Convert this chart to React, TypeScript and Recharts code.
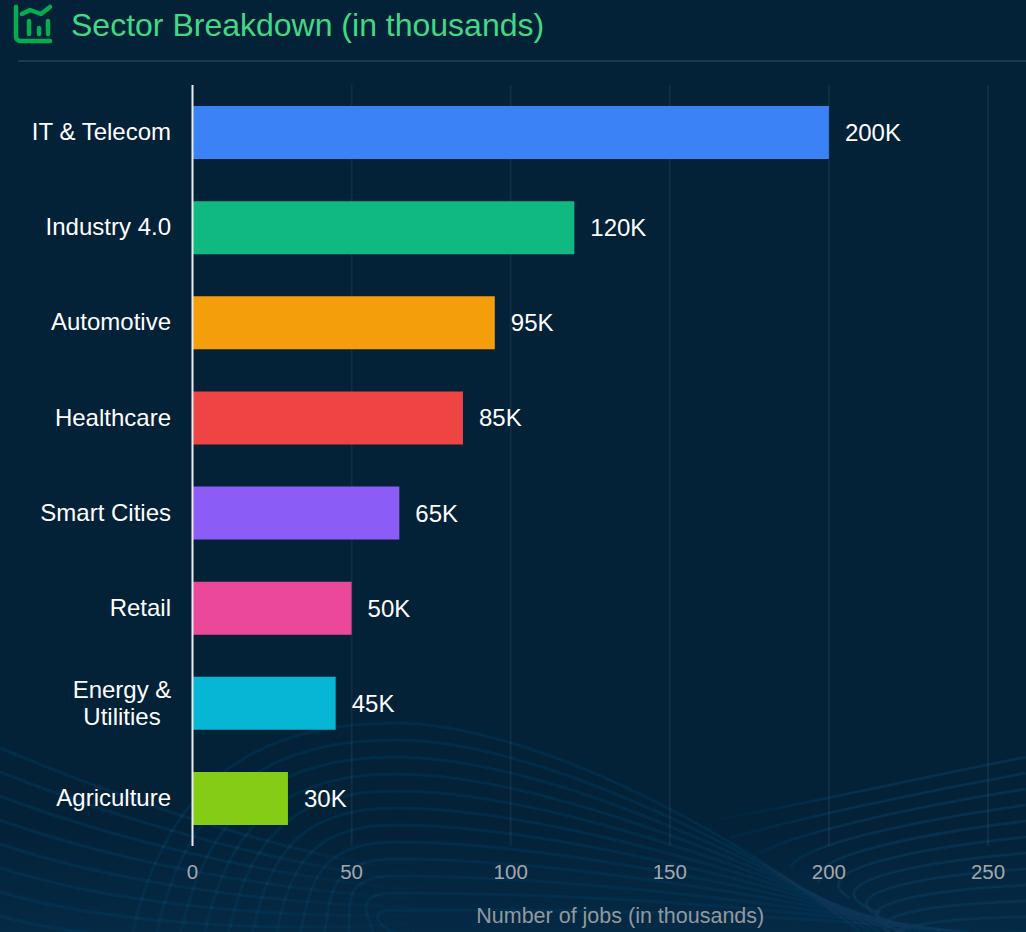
import React from "react";
import { BarChart, Bar, XAxis, YAxis, CartesianGrid, Cell, LabelList } from "recharts";

const sectors = ["IT & Telecom", "Industry 4.0", "Automotive", "Healthcare", "Smart Cities", "Retail", "Energy & Utilities", "Agriculture"];
const jobs = [200, 120, 95, 85, 65, 50, 45, 30];
const colors = ["#3b82f6", "#10b981", "#f59e0b", "#ef4444", "#8b5cf6", "#ec4899", "#06b6d4", "#84cc16"];
const xTicks = [0, 50, 100, 150, 200, 250];
const data = sectors.map((sector, i) => ({ sector, jobs: jobs[i] }));
const FONT = "'Liberation Sans', Arial, sans-serif";

const CategoryTick = (props: any) => {
  const { x, y, payload } = props;
  if (payload.value === "Energy & Utilities") {
    return (
      <text x={x - 49} y={y} textAnchor="middle" fill="#fff" fontSize={24} fontFamily={FONT}>
        <tspan x={x - 49} dy={-5}>Energy &amp;</tspan>
        <tspan x={x - 49} dy={27}>Utilities</tspan>
      </text>
    );
  }
  return (
    <text x={x} y={y} dy={7.6} textAnchor="end" fill="#fff" fontSize={24} fontFamily={FONT}>
      {payload.value}
    </text>
  );
};

const Waves = () => {
  const arcs = [0, 1, 2, 3, 4, 5, 6, 7, 8, 9, 10, 11];
  return (
    <svg width={1026} height={932} style={{ position: "absolute", left: 0, top: 0 }}>
      <defs>
        <linearGradient id="glow" x1="0" y1="0" x2="0" y2="1">
          <stop offset="0" stopColor="#06304f" stopOpacity={0} />
          <stop offset="1" stopColor="#06304f" stopOpacity={0.6} />
        </linearGradient>
        <linearGradient id="fadeLeft" gradientUnits="userSpaceOnUse" x1="0" y1="0" x2="430" y2="0">
          <stop offset="0" stopColor="#0b3758" stopOpacity={0.55} />
          <stop offset="0.6" stopColor="#0b3758" stopOpacity={0.55} />
          <stop offset="1" stopColor="#0b3758" stopOpacity={0} />
        </linearGradient>
        <linearGradient id="fadeRight" gradientUnits="userSpaceOnUse" x1="1026" y1="0" x2="690" y2="0">
          <stop offset="0" stopColor="#0b3758" stopOpacity={0.6} />
          <stop offset="0.6" stopColor="#0b3758" stopOpacity={0.6} />
          <stop offset="1" stopColor="#0b3758" stopOpacity={0} />
        </linearGradient>
        <filter id="soft"><feGaussianBlur stdDeviation="0.7" /></filter>
      </defs>
      <rect x={0} y={820} width={1026} height={112} fill="url(#glow)" />
      <g fill="none" strokeWidth={3} filter="url(#soft)">
        {arcs.map((k) => {
          const peak = 723 + k * 17;
          return (
            <path
              key={"a" + k}
              stroke="#0b3758"
              strokeOpacity={0.55}
              d={`M ${133 + k * 24} 932 C ${170 + k * 20} ${770 + k * 15}, ${270 + k * 8} ${peak}, 395 ${peak} C 520 ${peak}, 720 ${820 + k * 8}, ${860 + k * 10} 932`}
            />
          );
        })}
        {arcs.map((k) => (
          <path key={"b" + k} stroke="url(#fadeLeft)" d={`M 0 ${748 + k * 24} C 100 ${790 + k * 22}, 260 ${850 + k * 14}, 430 ${875 + k * 8}`} />
        ))}
        {arcs.map((k) => (
          <path key={"c" + k} stroke="url(#fadeRight)" d={`M 1026 ${757 + k * 16} C 920 ${778 + k * 14}, 800 ${805 + k * 13}, ${700 + k * 30} ${823 + k * 15}`} />
        ))}
      </g>
    </svg>
  );
};

const ChartIcon = () => (
  <svg width={70} height={50} style={{ position: "absolute", left: 0, top: 0 }}>
    <g fill="none" stroke="#04ad50" strokeWidth={4.5} strokeLinecap="round" strokeLinejoin="round">
      <path d="M16 7 V36 Q16 41 21 41 H50" />
      <path d="M22 14 L30 10 L41 14 L50 7" />
      <path d="M29 21 V34" />
      <path d="M39 28 V34" />
      <path d="M48 21 V34" />
    </g>
  </svg>
);

export default function App() {
  return (
    <div style={{ position: "absolute", left: 0, top: 0, width: 1026, height: 932, overflow: "hidden", background: "#032137", fontFamily: FONT }}>
      <Waves />
      <ChartIcon />
      <div style={{ position: "absolute", left: 71, top: 7, fontSize: 32, lineHeight: "36px", color: "#42d884", whiteSpace: "nowrap" }}>
        Sector Breakdown (in thousands)
      </div>
      <div style={{ position: "absolute", left: 18, right: 0, top: 60, height: 2, background: "#1a3a52" }} />
      <div style={{ position: "absolute", left: 0, top: 0 }}>
        <BarChart width={1026} height={932} data={data} layout="vertical" margin={{ top: 85, right: 38, bottom: 0, left: 0 }}>
          <CartesianGrid horizontal={false} vertical stroke="rgba(255,255,255,0.055)" strokeWidth={2} />
          <XAxis
            type="number"
            domain={[0, 250]}
            ticks={xTicks}
            axisLine={false}
            tickLine={false}
            height={86}
            tickMargin={12}
            tick={{ fill: "#a3a8ad", fontSize: 20.5, fontFamily: FONT }}
            label={{ value: "Number of jobs (in thousands)", position: "insideBottom", offset: 9, dx: 30, fill: "#93999f", fontSize: 21.5, fontFamily: FONT }}
          />
          <YAxis
            type="category"
            dataKey="sector"
            width={192.5}
            interval={0}
            axisLine={{ stroke: "#e8eaec", strokeWidth: 2 }}
            tickLine={false}
            tickMargin={15.5}
            tick={<CategoryTick />}
          />
          <Bar dataKey="jobs" barSize={53} isAnimationActive={false}>
            {data.map((d, i) => (
              <Cell key={d.sector} fill={colors[i]} />
            ))}
            <LabelList dataKey="jobs" position="right" offset={16} fill="#fff" fontSize={24} fontFamily={FONT} formatter={(v: any) => `${v}K`} />
          </Bar>
        </BarChart>
      </div>
    </div>
  );
}
